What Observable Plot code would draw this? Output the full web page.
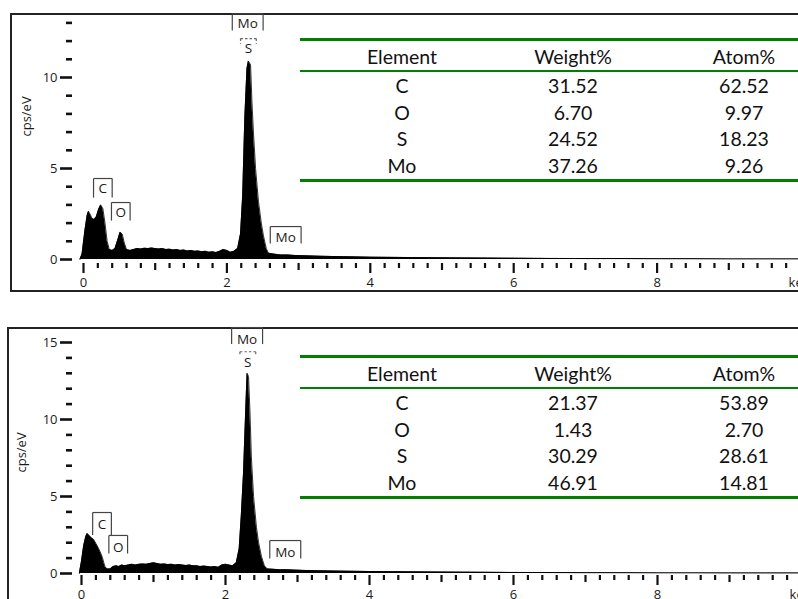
<!DOCTYPE html>
<html>
<head>
<meta charset="utf-8">
<script src="https://cdn.jsdelivr.net/npm/d3@7"></script>
<script src="https://cdn.jsdelivr.net/npm/@observablehq/plot@0.6"></script>
<style>
  html, body { margin: 0; padding: 0; background: #fff; overflow: hidden; }
  #stage { position: relative; width: 798px; height: 599px; overflow: hidden; background: #fff; }
  .box { position: absolute; box-sizing: border-box; border: 2px solid #222; }
  .plot { position: absolute; left: 0; width: 830px; }
  .plot svg { max-width: none !important; }
  table.eds { position: absolute; border-collapse: collapse; font-family: Lato, "Open Sans", sans-serif; font-size: 19.5px; color: #111; table-layout: fixed; }
  table.eds td, table.eds th { font-weight: normal; text-align: center; padding: 0; }
  table.eds thead th { height: 27px; border-top: 3px solid #008000; border-bottom: 2px solid #008000; padding-top: 2px; }
  table.eds tbody td { height: 26.7px; }
  table.eds tbody tr:last-child td { border-bottom: 3px solid #008000; }
</style>
</head>
<body>
<div id="stage">
  <div class="box" style="left:10px;top:13px;width:830px;height:279px"></div>
  <div class="box" style="left:7px;top:327px;width:830px;height:400px"></div>
  <div id="p1" class="plot" style="top:0px"></div>
  <div id="p2" class="plot" style="top:300px"></div>
  <table class="eds" id="t1" style="left:300px;top:38px;width:546px"></table>
  <table class="eds" id="t2" style="left:300px;top:355px;width:546px"></table>
</div>
<script>
// ---------- spectrum data (energy in keV, counts in cps/eV) ----------
const topEnergy = [-0.05,-0.02,0.02,0.05,0.07,0.09,0.12,0.15,0.18,0.21,0.24,0.27,0.30,0.33,0.36,0.40,0.44,0.48,0.51,0.54,0.57,0.60,
  0.65,0.70,0.75,0.80,0.85,0.90,0.95,1.00,1.05,1.10,1.15,1.20,1.25,1.30,1.35,1.40,1.45,1.50,1.55,1.60,1.65,1.70,1.75,1.80,1.85,1.90,1.95,2.00,2.05,2.10,
  2.15,2.19,2.22,2.25,2.28,2.30,2.33,2.35,2.37,2.40,2.44,2.48,2.51,2.55,2.58,2.65,2.75,2.85,2.95,3.1,3.3,3.5,3.7,4.0,4.5,5.0,5.5,6.0,6.5,7.0,7.5,8.0,8.5,9.0,9.5,10.0];
const topCounts = [0,0.3,1.6,2.4,2.65,2.5,2.25,2.2,2.35,2.75,3.0,2.8,2.0,1.0,0.55,0.5,0.6,1.1,1.5,1.4,0.9,0.55,
  0.5,0.55,0.6,0.58,0.62,0.6,0.63,0.6,0.58,0.6,0.55,0.57,0.52,0.55,0.5,0.52,0.47,0.5,0.45,0.47,0.43,0.45,0.4,0.42,0.38,0.45,0.55,0.5,0.4,0.45,
  0.6,1.4,3.5,7.8,10.5,10.9,10.7,8.6,7.0,5.0,3.2,2.0,1.3,0.6,0.35,0.3,0.25,0.25,0.22,0.2,0.18,0.16,0.15,0.13,0.11,0.09,0.08,0.07,0.06,0.05,0.05,0.04,0.04,0.03,0.03,0.03];

const bottomEnergy = [-0.03,0.0,0.03,0.06,0.08,0.11,0.14,0.17,0.20,0.23,0.26,0.29,0.31,0.33,0.36,0.40,0.44,0.48,0.52,0.56,0.60,
  0.65,0.70,0.75,0.80,0.85,0.90,0.95,1.00,1.05,1.10,1.15,1.20,1.25,1.30,1.35,1.40,1.45,1.50,1.55,1.60,1.65,1.70,1.75,1.80,1.85,1.90,1.95,2.00,2.05,2.10,
  2.15,2.19,2.22,2.25,2.28,2.30,2.32,2.34,2.36,2.39,2.43,2.46,2.50,2.54,2.58,2.65,2.75,2.85,2.95,3.1,3.3,3.5,3.7,4.0,4.5,5.0,5.5,6.0,6.5,7.0,7.5,8.0,8.5,9.0,9.5,10.0];
const bottomCounts = [0,0.8,1.8,2.4,2.6,2.45,2.3,2.2,1.95,1.7,1.4,1.05,0.7,0.4,0.3,0.3,0.45,0.5,0.45,0.55,0.5,
  0.55,0.6,0.55,0.6,0.62,0.6,0.65,0.7,0.65,0.6,0.62,0.58,0.6,0.55,0.58,0.55,0.52,0.55,0.5,0.5,0.45,0.48,0.45,0.42,0.45,0.4,0.55,0.6,0.55,0.5,
  0.7,1.6,3.8,6.5,10.5,13.0,12.8,10.5,7.5,5.0,3.0,2.0,1.1,0.5,0.3,0.28,0.25,0.24,0.22,0.2,0.18,0.16,0.15,0.13,0.11,0.09,0.08,0.07,0.06,0.05,0.05,0.04,0.04,0.03,0.03,0.03];

// ---------- element line markers ----------
const topMarkerLabel  = ["C","O","Mo","S","Mo"];
const topMarkerEnergy = [0.27,0.52,2.29,2.30,2.82];
const topMarkerTop    = [4.45,3.13,13.5,12.14,1.81];
const topMarkerBottom = [3.4,2.14,12.58,11.85,0.88];
const topMarkerTextY  = [3.9,2.6,12.95,11.6,1.2];
const topMarkerDashed = [false,false,false,true,false];

const bottomMarkerLabel  = ["C","O","Mo","S","Mo"];
const bottomMarkerEnergy = [0.285,0.51,2.30,2.31,2.83];
const bottomMarkerTop    = [3.96,2.47,15.97,14.4,2.14];
const bottomMarkerBottom = [2.5,1.3,14.9,14.1,0.97];
const bottomMarkerTextY  = [3.2,1.7,15.2,13.7,1.36];
const bottomMarkerDashed = [false,false,false,true,false];

// ---------- axis ticks ----------
const xMajorTicks = [0,2,4,6,8];
const xMediumTicks = [1,3,5,7,9];
const xMinorTicks = [0.2,0.4,0.6,0.8,1.2,1.4,1.6,1.8,2.2,2.4,2.6,2.8,3.2,3.4,3.6,3.8,4.2,4.4,4.6,4.8,5.2,5.4,5.6,5.8,6.2,6.4,6.6,6.8,7.2,7.4,7.6,7.8,8.2,8.4,8.6,8.8,9.2,9.4,9.6,9.8];
const xUnitLabel = "keV";
const yLabel = "cps/eV";
const topYMajor = [0,5,10];
const topYMinor = [1,2,3,4,6,7,8,9,11,12,13];
const bottomYMajor = [0,5,10,15];
const bottomYMinor = [1,2,3,4,6,7,8,9,11,12,13,14];

// ---------- tables ----------
const tableHeader = ["Element","Weight%","Atom%"];
const tableElements = ["C","O","S","Mo"];
const topWeight = ["31.52","6.70","24.52","37.26"];
const topAtom = ["62.52","9.97","18.23","9.26"];
const bottomWeight = ["21.37","1.43","30.29","46.91"];
const bottomAtom = ["53.89","2.70","28.61","14.81"];

function spectrum(cfg) {
  const data = cfg.energy.map((e, i) => ({e, c: cfg.counts[i]}));
  const markers = cfg.mLabel.map((l, i) => ({
    l, e: cfg.mE[i], top: cfg.mTop[i], bot: cfg.mBot[i], ty: cfg.mTextY[i], dashed: cfg.mDashed[i]
  }));
  const hw = d => d.dashed ? 0.11 : (d.l.length > 1 ? 0.215 : 0.13);
  const solid = markers.filter(d => !d.dashed);
  const dashed = markers.filter(d => d.dashed);
  const bracket = (arr, extra) => [
    Plot.link(arr, {x1: d => d.e - hw(d), x2: d => d.e + hw(d), y1: "top", y2: "top", stroke: "#444", strokeWidth: 1.2, ...extra}),
    Plot.link(arr, {x1: d => d.e - hw(d), x2: d => d.e - hw(d), y1: "top", y2: "bot", stroke: "#444", strokeWidth: 1.2, ...extra}),
    Plot.link(arr, {x1: d => d.e + hw(d), x2: d => d.e + hw(d), y1: "top", y2: "bot", stroke: "#444", strokeWidth: 1.2, ...extra})
  ];
  const font = 13;
  return Plot.plot({
    width: 830, height: 300,
    marginLeft: 72, marginRight: 30, marginTop: 0, marginBottom: cfg.marginBottom,
    x: {domain: [0, 10], range: cfg.xRange},
    y: {domain: [0, cfg.yTop], range: cfg.yRange},
    style: {fontFamily: "'Open Sans', sans-serif", fontSize: "13px", color: "#1a1a1a", background: "transparent", overflow: "visible", maxWidth: "none"},
    marks: [
      Plot.areaY(data, {x: "e", y: "c", fill: "#000", curve: "linear"}),
      Plot.lineY(data, {x: "e", y: "c", stroke: "#000", strokeWidth: 0.8}),
      Plot.axisX({ticks: xMinorTicks, tickSize: 5, strokeWidth: 2.2, stroke: "#111", tickFormat: () => "", label: null}),
      Plot.axisX({ticks: xMediumTicks, tickSize: 7, strokeWidth: 2.2, stroke: "#111", tickFormat: () => "", label: null}),
      Plot.axisX({ticks: xMajorTicks, tickSize: 10, strokeWidth: 2.2, stroke: "#111", tickPadding: 4, label: null, fill: "#1a1a1a", fontSize: font}),
      Plot.text([xUnitLabel], {x: 10, frameAnchor: "bottom", lineAnchor: "top", textAnchor: "middle", dy: 14, dx: -1, fill: "#1a1a1a", fontSize: font}),
      Plot.axisY({ticks: cfg.yMinor, tickSize: 6, strokeWidth: 2.6, stroke: "#111", tickFormat: () => "", label: null}),
      Plot.axisY({ticks: cfg.yMajor, tickSize: 12, strokeWidth: 2.6, stroke: "#111", tickPadding: 3, label: null, fill: "#1a1a1a", fontSize: font}),
      Plot.text([yLabel], {y: () => cfg.labelY, frameAnchor: "left", textAnchor: "middle", rotate: -90, dx: cfg.labelDx, fill: "#1a1a1a", fontSize: font}),
      ...bracket(solid, {}),
      ...bracket(dashed, {strokeDasharray: "2.5,2", stroke: "#666"}),
      Plot.text(markers, {x: "e", y: "ty", text: "l", fontSize: 13.5, fill: "#1a1a1a"})
    ]
  });
}

document.getElementById("p1").append(spectrum({
  energy: topEnergy, counts: topCounts,
  mLabel: topMarkerLabel, mE: topMarkerEnergy, mTop: topMarkerTop, mBot: topMarkerBottom, mTextY: topMarkerTextY, mDashed: topMarkerDashed,
  xRange: [83, 800], yTop: 10, yRange: [259, 77],
  yMajor: topYMajor, yMinor: topYMinor,
  marginBottom: 37, labelDx: -46, labelY: 7.86
}));

document.getElementById("p2").append(spectrum({
  energy: bottomEnergy, counts: bottomCounts,
  mLabel: bottomMarkerLabel, mE: bottomMarkerEnergy, mTop: bottomMarkerTop, mBot: bottomMarkerBottom, mTextY: bottomMarkerTextY, mDashed: bottomMarkerDashed,
  xRange: [81, 801], yTop: 15, yRange: [273, 42],
  yMajor: bottomYMajor, yMinor: bottomYMinor,
  marginBottom: 25, labelDx: -51, labelY: 7.86
}));

function fillTable(id, weight, atom) {
  const t = d3.select(id);
  const cg = t.append("colgroup");
  [204, 138, 204].forEach(w => cg.append("col").style("width", w + "px"));
  t.append("thead").append("tr").selectAll("th").data(tableHeader).join("th").text(d => d);
  t.append("tbody").selectAll("tr").data(tableElements.map((e, i) => [e, weight[i], atom[i]]))
    .join("tr").selectAll("td").data(d => d).join("td").text(d => d);
}
fillTable("#t1", topWeight, topAtom);
fillTable("#t2", bottomWeight, bottomAtom);
</script>
</body>
</html>
